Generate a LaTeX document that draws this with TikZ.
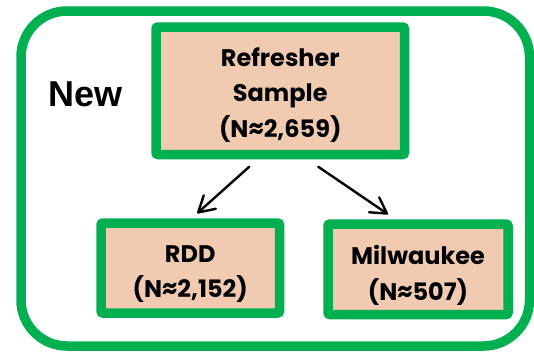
\documentclass[tikz,border=0pt]{standalone}
\usepackage{fontspec}
\usetikzlibrary{arrows.meta}
\setmainfont{Liberation Sans}
\newfontfamily\boxfont{Poppins}[BoldFont={Poppins Bold}]
\definecolor{framegreen}{HTML}{00B050}
\definecolor{peach}{HTML}{F0CBB2}
\tikzset{
  samplebox/.style={draw=framegreen, line width=9.5pt, fill=peach, rounded corners=2pt, inner sep=0pt},
  boxtext/.style={align=center, inner sep=0pt, font=\boxfont\bfseries\fontsize{24}{35.5}\selectfont},
  splitarrow/.style={line width=2.4pt, line cap=round,
    -{Straight Barb[angle=60:18pt, line cap=round, line join=round]}},
}
\begin{document}
\begin{tikzpicture}[x=1pt, y=-1pt]
  \useasboundingbox (0,0) rectangle (534,351);
  % outer frame
  \draw[framegreen, line width=9.5pt, rounded corners=46pt] (21,11) rectangle (529.5,346);
  % label
  \node[anchor=base west, font=\bfseries\fontsize{36}{40}\selectfont, inner sep=0pt] (new) at (48,106) {New};
  % boxes
  \node[samplebox, minimum width=248.5pt, minimum height=127.5pt] (top) at (280.25,90.75) {};
  \node[samplebox, minimum width=178.5pt, minimum height=90pt] (rdd) at (190.25,268) {};
  \node[samplebox, minimum width=180pt, minimum height=90.5pt] (mil) at (418,269.25) {};
  % box texts
  \node[boxtext] (toptext) at ([yshift=-4pt]top.center) {Refresher\\Sample\\(N≈2,659)};
  \node[boxtext] (rddtext) at ([yshift=-6pt]rdd.center) {RDD\\(N≈2,152)};
  \node[boxtext] (miltext) at ([yshift=-6pt]mil.center) {Milwaukee\\(N≈507)};
  % arrows
  \draw[splitarrow] ([xshift=-31pt, yshift=-7.5pt]top.south) -- ([xshift=7pt, yshift=5pt]rdd.north);
  \draw[splitarrow] ([xshift=38pt, yshift=-7.5pt]top.south) -- ([xshift=-30pt, yshift=5pt]mil.north);
\end{tikzpicture}
\end{document}
